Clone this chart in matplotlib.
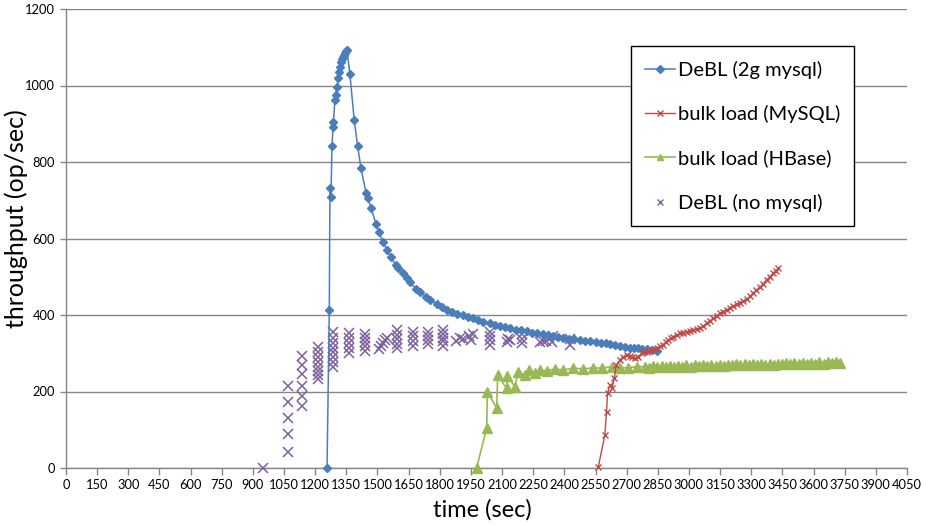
import matplotlib
matplotlib.use("Agg")
import matplotlib.pyplot as plt
from matplotlib.lines import Line2D

plt.rcParams['font.family'] = ['Lato', 'DejaVu Sans']

# ---------------- data ----------------
blue_t = [1257, 1268, 1271, 1276, 1281, 1286, 1288, 1295, 1298, 1305, 1310, 1315, 1319,
          1324, 1329, 1334, 1339, 1343, 1348, 1353, 1367, 1388, 1404, 1420, 1445, 1453,
          1469, 1493, 1506, 1525, 1546, 1563, 1588, 1600, 1621, 1640, 1656, 1685, 1704,
          1733, 1755, 1785, 1810, 1835, 1860, 1885, 1910, 1935, 1960, 1985, 2010, 2040,
          2065, 2090, 2115, 2140, 2165, 2190, 2218, 2245, 2270, 2295, 2320, 2345, 2370,
          2395, 2420, 2445, 2475, 2500, 2525, 2550, 2575, 2600, 2620, 2645, 2667, 2690,
          2716, 2735, 2754, 2775, 2796, 2820, 2844]
blue_v = [0, 413, 731, 709, 843, 892, 905, 962, 975, 997, 1019, 1036, 1049,
          1062, 1070, 1075, 1080, 1084, 1089, 1093, 1030, 910, 843, 785, 719, 707,
          680, 638, 618, 592, 570, 552, 531, 522, 509, 496, 486, 468, 461,
          448, 440, 428, 420, 413, 408, 403, 399, 395, 391, 387, 383, 378,
          375, 371, 368, 365, 362, 360, 357, 354, 352, 350, 347, 345, 342,
          340, 338, 337, 335, 333, 331, 330, 328, 326, 324, 321, 319, 317,
          315, 314, 314, 312, 310, 308, 307]

red_t = [2563, 2595, 2603, 2608, 2619, 2630, 2640, 2651, 2667, 2683, 2700, 2716, 2728,
         2740, 2756, 2772, 2784, 2796, 2808, 2820, 2832, 2844, 2860, 2876, 2888, 2900,
         2912, 2924, 2940, 2956, 2972, 2989, 3005, 3021, 3037, 3053, 3069, 3085, 3101,
         3117, 3133, 3149, 3165, 3181, 3197, 3213, 3229, 3245, 3261, 3278, 3294, 3309,
         3325, 3341, 3358, 3374, 3390, 3406, 3418, 3430]
red_v = [2, 86, 147, 195, 217, 208, 234, 270, 282, 291, 295, 293, 289,
         287, 291, 300, 302, 304, 306, 308, 311, 313, 318, 322, 329, 335,
         339, 342, 347, 352, 354, 356, 359, 361, 363, 365, 371, 378, 385,
         391, 398, 404, 409, 413, 419, 424, 428, 432, 437, 441, 449, 457,
         465, 472, 482, 492, 500, 509, 516, 522]

green_t = [1977, 2026, 2029, 2074, 2079, 2122, 2125, 2162, 2178, 2210, 2231, 2258, 2282,
           2314, 2354, 2394, 2443, 2491, 2539, 2579, 2627, 2667, 2707, 2748, 2788, 2808,
           2828, 2848, 2868, 2888, 2908, 2928, 2948, 2968, 2988, 3008, 3028, 3048, 3068,
           3088, 3108, 3128, 3148, 3168, 3188, 3208, 3228, 3248, 3268, 3288, 3308, 3328,
           3348, 3368, 3388, 3408, 3428, 3448, 3468, 3488, 3508, 3528, 3548, 3568, 3588,
           3608, 3628, 3648, 3668, 3688, 3708, 3727]
green_v = [0, 104, 200, 156, 243, 208, 240, 213, 252, 243, 256, 248, 256,
           254, 259, 256, 261, 259, 262, 261, 265, 262, 262, 265, 265, 262,
           266, 263, 266, 264, 267, 264, 267, 265, 268, 265, 268, 266, 269,
           266, 269, 267, 270, 267, 270, 268, 271, 268, 271, 269, 272, 269,
           272, 270, 273, 270, 273, 271, 274, 271, 274, 272, 275, 272, 275,
           273, 276, 273, 276, 274, 277, 275]

purple_t = [950,
            1067, 1067, 1067, 1067, 1067,
            1135, 1135, 1135, 1135, 1135, 1135,
            1215, 1215, 1215, 1215, 1215, 1215, 1215, 1215,
            1287, 1287, 1287, 1287, 1287, 1287, 1287, 1287,
            1363, 1363, 1363, 1363, 1363,
            1440, 1440, 1440, 1440, 1440,
            1505, 1515, 1525, 1535, 1545,
            1592, 1592, 1592, 1592, 1592,
            1672, 1672, 1672, 1672,
            1745, 1745, 1745, 1745,
            1817, 1817, 1817, 1817, 1817,
            1880, 1895, 1910, 1940, 1950, 1960,
            2041, 2041, 2041, 2041,
            2122, 2130, 2140,
            2194, 2194, 2194,
            2282, 2295, 2310, 2325, 2340, 2345,
            2427, 2427]
purple_v = [0,
            43, 88, 130, 173, 214,
            163, 189, 214, 246, 269, 293,
            233, 243, 254, 265, 278, 291, 304, 317,
            265, 278, 290, 302, 315, 328, 340, 356,
            300, 313, 326, 339, 352,
            305, 318, 330, 341, 350,
            310, 320, 328, 335, 340,
            313, 325, 337, 349, 361,
            320, 332, 344, 355,
            325, 335, 345, 355,
            320, 331, 341, 351, 361,
            333, 340, 336, 345, 335, 350,
            322, 334, 345, 356,
            330, 338, 335,
            326, 338, 350,
            330, 333, 331, 340, 330, 346,
            322, 336]

x_ticks = list(range(0, 4051, 150))
y_ticks = [0, 200, 400, 600, 800, 1000, 1200]

labels = ["DeBL (2g mysql)", "bulk load (MySQL)", "bulk load (HBase)", "DeBL (no mysql)"]

c_blue = "#4A7EBB"
c_red = "#BE4B48"
c_green = "#98B954"
c_purple = "#7D60A0"
grid_c = "#868686"

# ---------------- figure ----------------
fig = plt.figure(figsize=(9.26, 5.26), dpi=100)
W, H = 926, 526
ax = fig.add_axes([66 / W, (H - 468) / H, (907 - 66) / W, (468 - 9) / H])

ax.plot(blue_t, blue_v, color=c_blue, lw=1.1, marker="D", ms=3.8,
        mec=c_blue, mfc=c_blue, clip_on=False, zorder=4)
ax.plot(red_t, red_v, color=c_red, lw=1.0, marker="x", ms=5, mew=1.0,
        clip_on=False, zorder=4)
ax.plot(green_t, green_v, color=c_green, lw=1.2, marker="^", ms=6.5,
        mec=c_green, mfc=c_green, clip_on=False, zorder=3)
ax.plot(purple_t, purple_v, ls="none", color=c_purple, marker="x", ms=6.5, mew=1.1,
        clip_on=False, zorder=3)

ax.set_xlim(0, 4050)
ax.set_ylim(0, 1200)
ax.set_xticks(x_ticks)
ax.set_xticklabels([str(v) for v in x_ticks])
ax.set_yticks(y_ticks)
ax.set_yticklabels([str(v) for v in y_ticks])
ax.tick_params(axis="x", direction="out", length=5, width=1, color=grid_c,
               labelsize=9.3, pad=3, labelcolor="black")
ax.tick_params(axis="y", direction="out", length=4, width=1, color=grid_c,
               labelsize=9.3, pad=4, labelcolor="black")

ax.grid(axis="y", color=grid_c, lw=1.0)
ax.set_axisbelow(True)
for s in ["top", "right"]:
    ax.spines[s].set_visible(False)
for s in ["left", "bottom"]:
    ax.spines[s].set_color(grid_c)
    ax.spines[s].set_linewidth(1.0)

fig.text(482 / W, 1 - 510 / H, "time (sec)", ha="center", va="center", fontsize=17)
fig.text(16 / W, 1 - 219 / H, "throughput (op/sec)", ha="center", va="center",
         rotation=90, fontsize=18)

handles = [
    Line2D([], [], color=c_blue, lw=1.1, marker="D", ms=3.6),
    Line2D([], [], color=c_red, lw=1.0, marker="x", ms=4.5),
    Line2D([], [], color=c_green, lw=1.2, marker="^", ms=4.5),
    Line2D([], [], ls="none", color=c_purple, marker="x", ms=5),
]
leg = ax.legend(handles, labels, loc="upper left",
                bbox_to_anchor=((631 - 66) / 841, (468 - 46) / 459),
                fontsize=14.5, frameon=True, fancybox=False, edgecolor="black",
                framealpha=1, labelspacing=1.31, handlelength=1.45, handletextpad=0.15,
                borderpad=0.72, borderaxespad=0)
leg.get_frame().set_linewidth(1.0)

fig.savefig("out.png", dpi=100)
